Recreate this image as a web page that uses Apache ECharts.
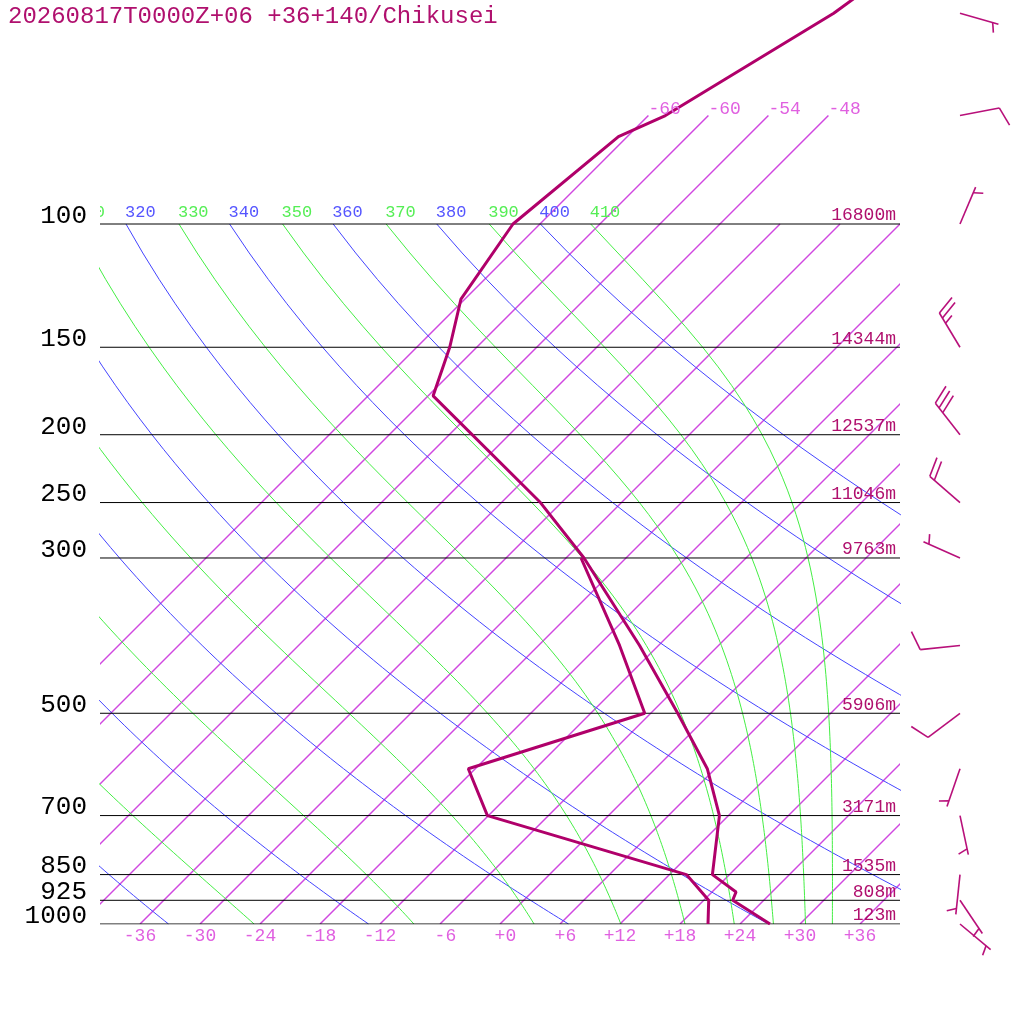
<!DOCTYPE html>
<html>
<head>
<meta charset="utf-8">
<script src="https://cdn.jsdelivr.net/npm/echarts@6/dist/echarts.min.js"></script>
<style>
html,body{margin:0;padding:0;background:#fff;}
#chart{width:1024px;height:1024px;}
</style>
</head>
<body>
<div id="chart"></div>
<script>
// 数据
var titleText = '20260817T0000Z+06 +36+140/Chikusei';
var isobars = [100, 150, 200, 250, 300, 500, 700, 850, 925, 1000];
var heights = ['16800m', '14344m', '12537m', '11046m', '9763m', '5906m', '3171m', '1535m', '808m', '123m'];
var isotherms = [-66, -60, -54, -48, -42, -36, -30, -24, -18, -12, -6, 0, 6, 12, 18, 24, 30, 36];
var isothermLabels = [-66, -60, -54, -48];
var tempTicks = [-36, -30, -24, -18, -12, -6, 0, 6, 12, 18, 24, 30, 36];
var dryThetas = [240, 260, 280, 300, 320, 340, 360, 380, 400];
var moistThetas = [250, 270, 290, 310, 330, 350, 370, 390, 410];
var tempP = [1000, 925, 900, 850, 700, 600, 500, 400, 300, 250, 176, 150, 128, 100, 75, 70, 50, 40];
var tempT = [27.0, 20.9, 20.4, 16.3, 11.1, 5.2, -3.3, -13.9, -28.2, -38.1, -59.5, -62.7, -66.4, -68.7, -66.9, -64.3, -57.7, -55.2];
var dewP = [1000, 925, 850, 700, 600, 500, 400, 300];
var dewT = [20.8, 18.5, 13.7, -12.1, -18.7, -6.6, -15.9, -28.5];
var windP = [50, 70, 100, 150, 200, 250, 300, 400, 500, 600, 700, 850, 925, 1000];
var windDir = [106, 79, 23, 329, 322, 311, 294, 264, 233, 199, 168, 186, 146, 130];
var windSpd = [5, 10, 5, 25, 30, 20, 5, 10, 10, 5, 5, 5, 5, 5];

var SKEW = 70;          // 斜温图倾斜系数
var FONT = '"Liberation Mono", "DejaVu Sans Mono", monospace';
var lineColor = '#b0006a';

function sx(t, p) { return t + SKEW * Math.log10(1000 / p); }

// 干绝热线
function dryT(theta, p) { return theta * Math.pow(p / 1000, 0.2857) - 273.15; }
// 假相当位温 (Bolton)
function thetaE(tC, p) {
	var tk = tC + 273.15;
	var es = 6.112 * Math.exp(17.67 * tC / (tC + 243.5));
	if (es > p * 0.9) return 1e6;
	var r = 0.622 * es / (p - es);
	var th = tk * Math.pow(1000 / p, 0.2854 * (1 - 0.28 * r));
	return th * Math.exp((3.376 / tk - 0.00254) * r * 1000 * (1 + 0.81 * r));
}
function moistT(te, p) {
	var lo = -160, hi = 60;
	for (var k = 0; k < 60; k++) {
		var mid = (lo + hi) / 2;
		if (thetaE(mid, p) > te) hi = mid; else lo = mid;
	}
	return (lo + hi) / 2;
}

var levels = [];
for (var p = 1000; p >= 100; p -= 10) levels.push(p);

function lineSeries(data, color, width, z) {
	return {
		type: 'line', data: data, showSymbol: false, symbol: 'none', silent: true,
		clip: true, z: z, animation: false, color: color,
		itemStyle: { color: color },
		lineStyle: { color: color, width: width }
	};
}

var series = [];
// 等温线
series.push({
	type: 'custom', clip: true, silent: true, z: 2, animation: false,
	data: isotherms.map(function (t) { return [t, 1000]; }),
	renderItem: function (params, api) {
		var t = api.value(0);
		var top = isothermLabels.indexOf(t) >= 0 ? 70 : 100;
		var a = api.coord([sx(t, 1000), 1000]);
		var b = api.coord([sx(t, top), top]);
		return {
			type: 'line', shape: { x1: a[0], y1: a[1], x2: b[0], y2: b[1] },
			style: { stroke: '#d048e0', lineWidth: 1.5, fill: null }
		};
	}
});
// 干绝热线
dryThetas.forEach(function (th) {
	series.push(lineSeries(levels.map(function (p) { return [sx(dryT(th, p), p), p]; }), '#4444ff', 1, 2));
});
// 湿绝热线
var moistTop = {};
moistThetas.forEach(function (th) {
	var d = levels.map(function (p) { return [sx(moistT(th, p), p), p]; });
	moistTop[th] = d[d.length - 1][0];
	series.push(lineSeries(d, '#44ee44', 1, 2));
});
// 等压线
isobars.forEach(function (p) {
	series.push(lineSeries([[-40, p], [40, p]], '#000', 1, 3));
});
// 温度、露点
series.push(lineSeries(tempP.map(function (p, i) { return [sx(tempT[i], p), p]; }), lineColor, 3, 5));
series.push(lineSeries(dewP.map(function (p, i) { return [sx(dewT[i], p), p]; }), lineColor, 3, 5));

function txt(x, y, s, color, size, align) {
	return {
		type: 'text', x: x, y: y,
		style: {
			text: s, fill: color, font: size + 'px ' + FONT,
			align: align, textAlign: align, verticalAlign: 'middle', textVerticalAlign: 'middle'
		}
	};
}

// 气压标签
series.push({
	type: 'custom', clip: false, silent: true, z: 10, animation: false,
	data: isobars.map(function (p) { return [0, p]; }),
	renderItem: function (params, api) {
		var y = api.coord([0, api.value(1)])[1];
		return txt(87, y - 8, String(isobars[params.dataIndex]), '#000', 26, 'right');
	}
});
// 高度标签
series.push({
	type: 'custom', clip: false, silent: true, z: 10, animation: false,
	data: isobars.map(function (p) { return [40, p]; }),
	renderItem: function (params, api) {
		var pt = api.coord([40, api.value(1)]);
		return txt(pt[0] - 4, pt[1] - 8.5, heights[params.dataIndex], '#b0106e', 18, 'right');
	}
});
// 底部温度标签
series.push({
	type: 'custom', clip: false, silent: true, z: 10, animation: false,
	data: tempTicks.map(function (t) { return [t, 1000]; }),
	renderItem: function (params, api) {
		var t = tempTicks[params.dataIndex];
		var s = t > 0 || t === 0 ? '+' + t : '-' + Math.abs(t);
		s = ('   ' + s).slice(-3);
		var pt = api.coord([api.value(0), 1000]);
		return txt(pt[0], pt[1] + 12, s, '#e060e0', 18, 'center');
	}
});
// 等温线标签
series.push({
	type: 'custom', clip: false, silent: true, z: 10, animation: false,
	data: isothermLabels.map(function (t) { return [sx(t, 70), 70]; }),
	renderItem: function (params, api) {
		var pt = api.coord([api.value(0), api.value(1)]);
		return txt(pt[0], pt[1] - 6, String(isothermLabels[params.dataIndex]), '#e060e0', 18, 'left');
	}
});
// 位温标签 (只保留图内可见的)
var thetaLab = [];
dryThetas.forEach(function (th) { thetaLab.push({ v: th, x: sx(dryT(th, 100), 100), c: '#5555ff' }); });
moistThetas.forEach(function (th) { thetaLab.push({ v: th, x: moistTop[th], c: '#55ee55' }); });
thetaLab = thetaLab.filter(function (d) { return d.x > -43.5; });
series.push({
	type: 'custom', clip: true, silent: true, z: 10, animation: false,
	data: thetaLab.map(function (d) { return [d.x, 100]; }),
	renderItem: function (params, api) {
		var pt = api.coord([api.value(0), 100]);
		var d = thetaLab[params.dataIndex];
		return txt(pt[0] - 1, pt[1] - 11.5, String(d.v), d.c, 17, 'left');
	}
});
// 风羽
series.push({
	type: 'custom', clip: false, silent: true, z: 10, animation: false,
	data: windP.map(function (p) { return [0, p]; }),
	renderItem: function (params, api) {
		var i = params.dataIndex;
		var y = api.coord([0, api.value(1)])[1];
		var x = 960;
		var rad = windDir[i] * Math.PI / 180;
		var dx = Math.sin(rad), dy = -Math.cos(rad);
		var tx = x + 40 * dx, ty = y + 40 * dy;
		var st = { stroke: '#b8107a', lineWidth: 1.6 };
		var kids = [{ type: 'line', shape: { x1: x, y1: y, x2: tx, y2: ty }, style: st }];
		var a = Math.atan2(dy, dx) + 70 * Math.PI / 180;
		var bx = Math.cos(a), by = Math.sin(a);
		var spd = Math.round(windSpd[i] / 5) * 5;
		var n10 = Math.floor(spd / 10), n5 = (spd % 10) / 5;
		var pos = 0;
		for (var k = 0; k < n10; k++) {
			var sx0 = tx - pos * 6 * dx, sy0 = ty - pos * 6 * dy;
			kids.push({ type: 'line', shape: { x1: sx0, y1: sy0, x2: sx0 + 20 * bx, y2: sy0 + 20 * by }, style: st });
			pos++;
		}
		if (n5) {
			if (pos === 0) pos = 1;
			var hx = tx - pos * 6 * dx, hy = ty - pos * 6 * dy;
			kids.push({ type: 'line', shape: { x1: hx, y1: hy, x2: hx + 10 * bx, y2: hy + 10 * by }, style: st });
		}
		return { type: 'group', children: kids };
	}
});

var myChart = echarts.init(document.getElementById('chart'));
var option = {
	backgroundColor: '#fff',
	animation: false,
	title: {
		text: titleText, left: 8, top: 5, padding: 0,
		textStyle: { fontFamily: FONT, fontSize: 24, fontWeight: 'normal', color: '#b0106e' }
	},
	grid: { left: 100, right: 124, top: 0, bottom: 100, containLabel: false },
	xAxis: { type: 'value', min: -40, max: 40, show: false },
	yAxis: { type: 'log', min: 1000 / Math.pow(10, 924 / 700), max: 1000, inverse: true, show: false },
	series: series
};
myChart.setOption(option);
</script>
</body>
</html>
